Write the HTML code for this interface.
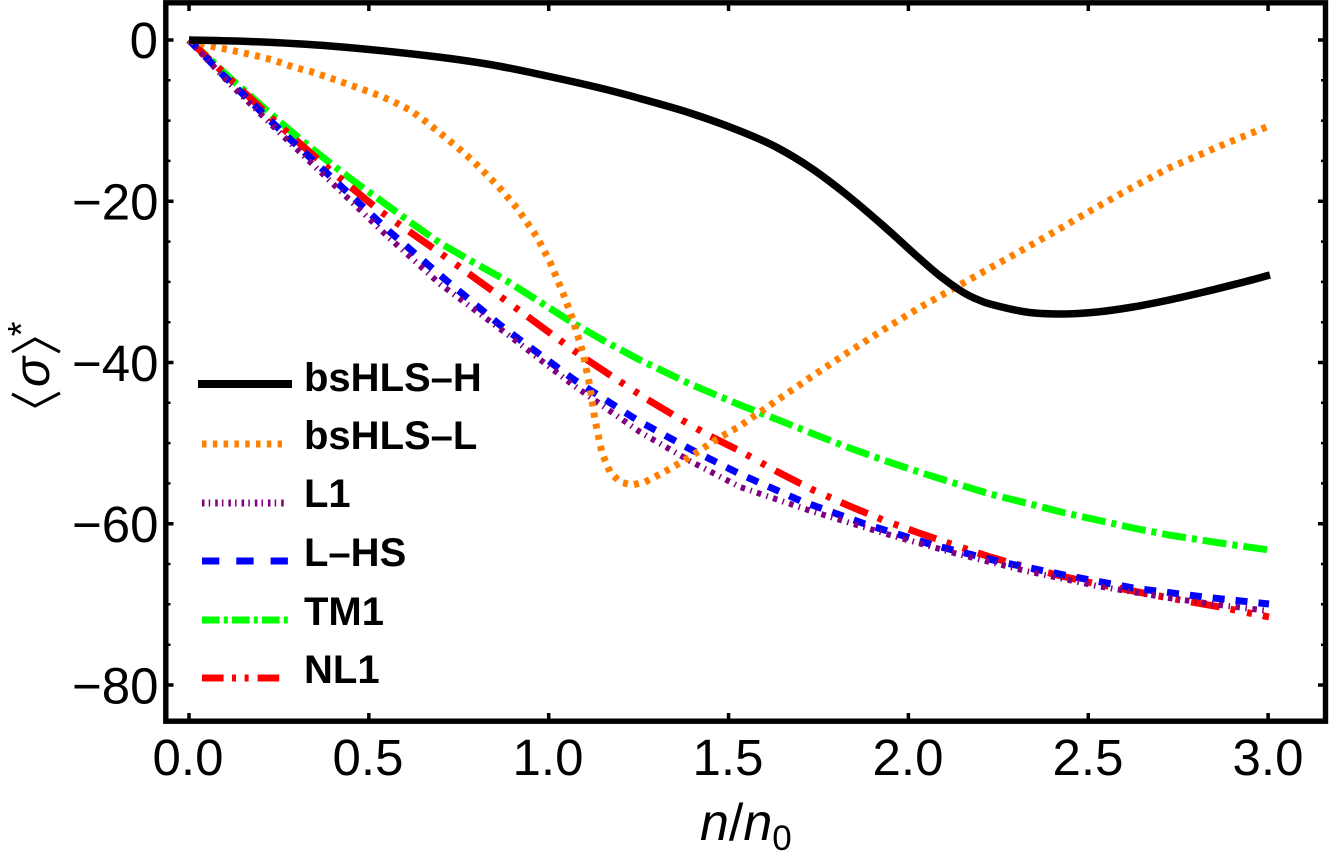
<!DOCTYPE html>
<html><head><meta charset="utf-8"><style>
html,body{margin:0;padding:0;background:#fff;}
svg{display:block;}
text{font-family:"Liberation Sans",Arial,sans-serif;}
</style></head><body>
<svg width="1330" height="853" viewBox="0 0 1330 853" xmlns="http://www.w3.org/2000/svg">
<defs><clipPath id="c"><rect x="168" y="5" width="1155" height="714"/></clipPath></defs>
<rect width="1330" height="853" fill="#fff"/>

<g clip-path="url(#c)" fill="none" stroke-linejoin="round">
<!-- TM1 green -->
<polyline stroke="#00ff00" stroke-width="7" stroke-dasharray="24 6 5 6" points="189,40 210,59 230,78 255,100 280,122 305,143 330,163 355,182 380,200 410,222 440,243 473,262 507,281 540,302 573,323 606,342 640,360 690,384 740,405 776,419 811,433 847,447 883,460 919,472 954,483 990,494 1026,503 1061,512 1097,520 1133,528 1169,535 1220,543 1269,550"/>
<!-- NL1 red -->
<polyline stroke="#ff0000" stroke-width="7" stroke-dasharray="29 11 5 12 5 11" points="189,40 230,79 280,126 330,170 380,211 440,253 490,289 520,311 550,333 580,355 613,377 645,398 680,419 710,436 740,451 776,471 811,489 847,505 883,520 919,533 954,545 990,557 1026,567 1061,576 1097,584 1133,591 1169,598 1220,607 1269,617"/>
<!-- L-HS blue -->
<polyline stroke="#0000ff" stroke-width="7" stroke-dasharray="12 11" points="189,40 223,75 277,127 330,176 390,232 447,281 500,325 573,379 637,420 690,449 740,474 801,501 865,524 933,545 1001,562 1069,576 1133,588 1204,597 1269,604"/>
<!-- L1 purple -->
<polyline stroke="#800080" stroke-width="6" stroke-dasharray="4.5 5.5 1.5 5.5" points="189,40 230,84 280,133 330,181 385,234 440,284 507,334 573,385 640,432 690,461 740,487 811,511 883,533 954,553 1026,571 1097,586 1169,598 1220,605 1269,611"/>
<!-- bsHLS-L orange -->
<polyline stroke="#ff8000" stroke-width="7" stroke-dasharray="5 6.3" points="189,40 210,46 230,50 253,55 273,60 293,67 312,72 330,78 350,85 370,92 390,100 410,110 425,121 440,133 457,147 473,161 497,185 517,208 537,237 550,262 563,293 573,320 583,353 590,387 595,420 602,453 610,472 620,482 632,485 645,482 653,478 673,467 693,455 717,439 740,426 776,401 811,377 847,353 883,330 919,308 958,286 990,268 1026,248 1061,228 1097,207 1133,187 1169,168 1220,146 1269,126"/>
<!-- bsHLS-H black -->
<path stroke="#000" stroke-width="7.5" d="M189,40 C199.2,40.25 226.5,40.5 250,41.5 C273.5,42.5 300,43.6 330,46 C360,48.4 403.3,52.9 430,56 C456.7,59.1 470.5,61.2 490,64.5 C509.5,67.8 528.7,72.1 547,76 C565.3,79.9 584.5,84.25 600,88 C615.5,91.75 625,94.3 640,98.5 C655,102.7 673.3,107.6 690,113 C706.7,118.4 725.7,125.3 740,131 C754.3,136.7 764.2,140.8 776,147 C787.8,153.2 799.2,160 811,168 C822.8,176 835,185.4 847,195 C859,204.6 871,215 883,225.5 C895,236 909.5,249.6 919,258 C928.5,266.4 933,270.5 940,276 C947,281.5 955.2,287.25 961,291 C966.8,294.75 970.2,296.3 975,298.5 C979.8,300.2 981.5,301.75 990,304 C998.5,306.25 1014.2,310.3 1026,312 C1037.8,313.7 1049.2,314 1061,314 C1072.8,314 1085,313.2 1097,312 C1109,310.8 1121,309 1133,307 C1145,305 1157.2,302.5 1169,300 C1180.8,297.5 1192.2,294.8 1204,292 C1215.8,289.2 1229,285.8 1240,283 C1251,280.2 1265,276.3 1270,275"/>
</g>

<!-- frame -->
<rect x="165.8" y="2.8" width="1159.7" height="718.4" fill="none" stroke="#000" stroke-width="5.4"/>

<!-- ticks -->
<g stroke="#000" stroke-width="3.5">
<path d="M189,721V713 M368.85,721V713 M548.7,721V713 M728.55,721V713 M908.4,721V713 M1088.25,721V713 M1268.1,721V713
M189,3V11 M368.85,3V11 M548.7,3V11 M728.55,3V11 M908.4,3V11 M1088.25,3V11 M1268.1,3V11"/>
<path d="M165.8,40H173.5 M165.8,201.25H173.5 M165.8,362.5H173.5 M165.8,523.75H173.5 M165.8,685H173.5
M1325.5,40H1318 M1325.5,201.25H1318 M1325.5,362.5H1318 M1325.5,523.75H1318 M1325.5,685H1318"/>
</g>
<g stroke="#000" stroke-width="2.5">
<path d="M165.8,80.3H170.5 M165.8,120.6H170.5 M165.8,160.9H170.5 M165.8,241.6H170.5 M165.8,281.9H170.5 M165.8,322.2H170.5 M165.8,402.8H170.5 M165.8,443.1H170.5 M165.8,483.4H170.5 M165.8,564H170.5 M165.8,604.3H170.5 M165.8,644.7H170.5
M1325.5,80.3H1321 M1325.5,120.6H1321 M1325.5,160.9H1321 M1325.5,241.6H1321 M1325.5,281.9H1321 M1325.5,322.2H1321 M1325.5,402.8H1321 M1325.5,443.1H1321 M1325.5,483.4H1321 M1325.5,564H1321 M1325.5,604.3H1321 M1325.5,644.7H1321"/>
</g>

<!-- y tick labels -->
<g font-size="51" text-anchor="end" fill="#000">
<text x="158" y="58">0</text>
<text x="158.5" y="219.5">−20</text>
<text x="158.5" y="380.8">−40</text>
<text x="158.5" y="542">−60</text>
<text x="158.5" y="703.3">−80</text>
</g>
<!-- x tick labels -->
<g font-size="51" text-anchor="middle" fill="#000">
<text x="188" y="775">0.0</text>
<text x="368" y="775">0.5</text>
<text x="548" y="775">1.0</text>
<text x="728" y="775">1.5</text>
<text x="908" y="775">2.0</text>
<text x="1088" y="775">2.5</text>
<text x="1268" y="775">3.0</text>
</g>

<!-- x label -->
<text x="700" y="840" font-size="52" fill="#000"><tspan font-style="italic">n</tspan>/<tspan font-style="italic">n</tspan><tspan font-size="35" dy="10">0</tspan></text>

<!-- y label -->
<g fill="none" stroke="#000" stroke-width="3">
<polyline points="12,394 35,406 60,393"/>
<polyline points="12,352 35,339 60,352"/>
</g>
<text transform="translate(49,372) rotate(-90)" font-size="50" font-style="italic" text-anchor="middle" fill="#000">σ</text>
<text transform="translate(34,329) rotate(-90)" font-size="38" text-anchor="middle" fill="#000">*</text>

<!-- legend -->
<g fill="none">
<line x1="202" y1="384" x2="288" y2="384" stroke="#000" stroke-width="8" stroke-linecap="square"/>
<line x1="202" y1="444" x2="282" y2="444" stroke="#ff8000" stroke-width="7" stroke-dasharray="4.5 6.3"/>
<line x1="202" y1="503" x2="284" y2="503" stroke="#800080" stroke-width="7" stroke-dasharray="2.5 4.2 1.5 5"/>
<line x1="202" y1="561" x2="288" y2="561" stroke="#0000ff" stroke-width="7" stroke-dasharray="17.3 17"/>
<line x1="202" y1="620" x2="288" y2="620" stroke="#00ff00" stroke-width="7" stroke-dasharray="17.6 4.2 4 4.2"/>
<line x1="202" y1="678" x2="280" y2="678" stroke="#ff0000" stroke-width="7" stroke-dasharray="21.6 8.4 4 8.6 4 9"/>
</g>
<g font-size="40" font-weight="bold" fill="#000">
<text x="304" y="391">bsHLS–H</text>
<text x="304" y="449">bsHLS–L</text>
<text x="304" y="507">L1</text>
<text x="304" y="566">L–HS</text>
<text x="304" y="625">TM1</text>
<text x="304" y="683">NL1</text>
</g>
</svg>
</body></html>
